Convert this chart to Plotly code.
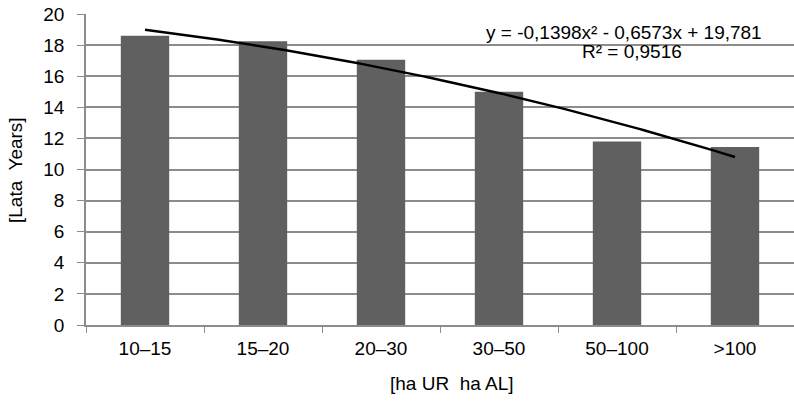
import numpy as np
import plotly.graph_objects as go

categories = ["10–15", "15–20", "20–30", "30–50", "50–100", ">100"]
values = [18.6, 18.25, 17.05, 15.0, 11.8, 11.45]
trend_coef = [-0.1398, -0.6573, 19.781]  # y = a x^2 + b x + c, x = 1..6
y_ticks = [0, 2, 4, 6, 8, 10, 12, 14, 16, 18, 20]

xs = np.linspace(1, len(categories), 200)
ys = np.polyval(trend_coef, xs)

font = "Liberation Sans, Arial, sans-serif"
FS = 19

fig = go.Figure()
fig.add_trace(go.Bar(x=categories, y=values, marker=dict(color="#606060", line=dict(width=0)),
                     width=0.41, showlegend=False, hoverinfo="skip"))
fig.add_trace(go.Scatter(x=xs - 1, y=ys, mode="lines", xaxis="x2",
                         line=dict(color="black", width=2.4), showlegend=False, hoverinfo="skip"))

fig.update_layout(
    width=794, height=402,
    margin=dict(l=86, r=0, t=14, b=77),
    plot_bgcolor="white", paper_bgcolor="white",
    font=dict(family=font, size=FS, color="black"),
    xaxis=dict(type="category", tickson="boundaries", ticks="outside", ticklen=6,
               tickcolor="#8c8c8c", showgrid=False, showline=True, linecolor="#8c8c8c",
               linewidth=1.5, tickfont=dict(size=FS), range=[-0.5, 5.5], automargin=False,
               ticklabelstandoff=5),
    xaxis2=dict(overlaying="x", range=[-0.5, 5.5], visible=False),
    yaxis=dict(range=[0, 20], tickvals=y_ticks, ticks="outside", ticklen=7,
               tickcolor="#8c8c8c", showgrid=True, gridcolor="#8c8c8c", gridwidth=1.5,
               showline=True, linecolor="#8c8c8c", linewidth=1.5, zeroline=False,
               ticklabelstandoff=9, tickfont=dict(size=FS), automargin=False),
    annotations=[
        dict(text="y = -0,1398x² - 0,6573x + 19,781", xref="paper", yref="paper",
             x=0.760, y=0.939, xanchor="center", yanchor="middle", showarrow=False,
             font=dict(size=FS, family=font)),
        dict(text="R² = 0,9516", xref="paper", yref="paper",
             x=0.771, y=0.878, xanchor="center", yanchor="middle", showarrow=False,
             font=dict(size=FS, family=font)),
        dict(text="[Lata\u00a0 Years]", xref="paper", yref="paper",
             x=-86 / 708 + 15 / 708, y=(325 - 170) / 311, xanchor="center", yanchor="middle",
             textangle=-90, showarrow=False, font=dict(size=FS, family=font)),
        dict(text="[ha UR\u00a0 ha AL]", xref="paper", yref="paper",
             x=(452 - 86) / 708, y=-(383 - 325) / 311, xanchor="center", yanchor="middle",
             showarrow=False, font=dict(size=FS, family=font)),
    ],
)

fig.write_html("out.html", config={"displayModeBar": False},
               post_script="document.body.style.margin='0';document.body.style.overflow='hidden';")
